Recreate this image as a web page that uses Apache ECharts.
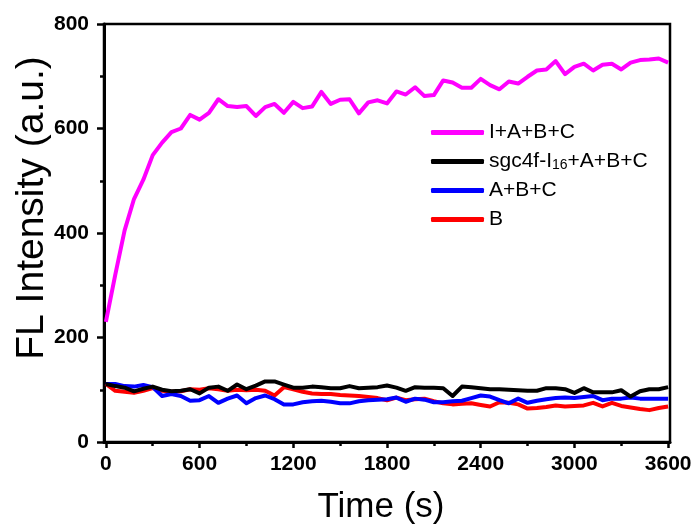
<!DOCTYPE html>
<html>
<head>
<meta charset="utf-8">
<script src="https://cdn.jsdelivr.net/npm/echarts@6/dist/echarts.min.js"></script>
<style>html,body{margin:0;padding:0;background:#fff;}#c{width:698px;height:531px;}</style>
</head>
<body>
<div id="c"></div>
<script>
const times = [0,60,120,180,240,300,360,420,480,540,600,660,720,780,840,900,960,1020,1080,1140,1200,1260,1320,1380,1440,1500,1560,1620,1680,1740,1800,1860,1920,1980,2040,2100,2160,2220,2280,2340,2400,2460,2520,2580,2640,2700,2760,2820,2880,2940,3000,3060,3120,3180,3240,3300,3360,3420,3480,3540,3600];
const seriesNames = ["I+A+B+C", "sgc4f-I16+A+B+C", "A+B+C", "B"];
const magenta = [230,320,405,465,502,549,573,593,600,626,617,630,656,643,641,643,624,641,647,630,651,639,642,670,647,655,656,629,650,654,648,671,665,679,662,664,692,688,678,678,695,683,675,690,686,699,711,713,729,704,718,724,711,722,724,713,726,731,732,734,726];
const black = [111,107,104,97,102,106,100,97,98,101,93,104,106,98,110,101,108,116,116,110,104,104,106,105,103,103,107,103,104,105,108,104,98,105,104,104,103,88,106,105,103,101,101,100,99,98,98,103,103,101,94,103,95,95,95,99,87,97,101,101,105];
const blue = [111,111,107,106,109,105,88,92,88,79,80,88,75,83,89,74,84,89,82,72,72,76,78,79,77,74,74,78,80,81,82,85,77,83,81,76,76,78,79,84,89,87,80,74,83,75,79,82,84,85,84,86,88,80,83,83,85,83,83,83,83];
const red = [111,98,96,94,98,103,98,96,97,101,100,103,101,98,100,99,100,98,89,105,101,96,93,92,92,90,89,88,86,84,80,85,80,82,83,78,74,72,73,74,71,68,76,75,72,64,65,67,70,68,69,70,75,68,75,69,66,63,61,65,68];
const xMajorTicks = [0,600,1200,1800,2400,3000,3600];
const xMinorTicks = [300,900,1500,2100,2700,3300];
const colors = {"I+A+B+C":"#FF00FF","sgc4f-I16+A+B+C":"#000000","A+B+C":"#0000FF","B":"#FF0000"};

function pts(v){ return times.map((t,i)=>[t, v[i]]); }
function mk(name, vals, z){
  return {name:name, type:'line', data:pts(vals), symbol:'none', z:z, xAxisIndex:0,
    color:colors[name], lineStyle:{width:4, color:colors[name], join:'round'}};
}
const chart = echarts.init(document.getElementById('c'), null, {renderer:'canvas'});
const axisFont = 'Liberation Sans, Arial, sans-serif';
chart.setOption({
  animation:false,
  backgroundColor:'#fff',
  grid:{left:104, right:28, top:24, bottom:89, show:true, borderColor:'#000', borderWidth:2.5, backgroundColor:'transparent'},
  legend:{
    orient:'vertical', left:431, top:122, itemWidth:53, itemHeight:5, itemGap:8, padding:0,
    icon:'roundRect',
    data:seriesNames,
    formatter:function(n){ return n === 'sgc4f-I16+A+B+C' ? '{m|sgc4f-I}{s|16}{m|+A+B+C}' : '{m|'+n+'}'; },
    textStyle:{color:'#000', fontFamily:axisFont, fontSize:21, lineHeight:21,
      rich:{m:{fontSize:21, lineHeight:21, fontFamily:axisFont, color:'#000'},
            s:{fontSize:14, lineHeight:10, verticalAlign:'bottom', fontFamily:axisFont, color:'#000'}}}
  },
  xAxis:[{
    type:'value', min:-12, max:3612,
    axisLine:{show:true, onZero:false, lineStyle:{color:'#000', width:3}},
    axisTick:{show:true, inside:false, length:6, lineStyle:{color:'#000', width:2.5}, customValues:xMajorTicks},
    axisLabel:{show:true, customValues:xMajorTicks, margin:12, color:'#000', fontSize:21, fontWeight:'bold', fontFamily:axisFont,
      formatter:function(v){ return String(v); }},
    splitLine:{show:false}
  },{
    type:'value', min:-12, max:3612, position:'bottom', offset:0,
    axisLine:{show:false, onZero:false},
    axisTick:{show:true, inside:false, length:4, lineStyle:{color:'#000', width:2.5}, customValues:xMinorTicks},
    axisLabel:{show:true, customValues:xMinorTicks, color:'rgba(0,0,0,0)', formatter:function(){ return ''; }},
    splitLine:{show:false}
  }],
  yAxis:{
    type:'value', min:0, max:800, interval:200,
    axisLine:{show:true, onZero:false, lineStyle:{color:'#000', width:3}},
    axisTick:{show:true, inside:false, length:7, lineStyle:{color:'#000', width:2.5}},
    minorTick:{show:true, splitNumber:2, length:4, lineStyle:{color:'#000', width:2.5}},
    axisLabel:{margin:15, color:'#000', fontSize:21, fontWeight:'bold', fontFamily:axisFont},
    splitLine:{show:false}
  },
  series:[
    mk('B', red, 2),
    mk('A+B+C', blue, 3),
    mk('sgc4f-I16+A+B+C', black, 4),
    mk('I+A+B+C', magenta, 5)
  ],
  graphic:[
    {type:'text', x:32, y:208, rotation:Math.PI/2,
      style:{text:'FL Intensity (a.u.)', fill:'#000', font:'39px Liberation Sans, Arial, sans-serif', align:'center', verticalAlign:'middle'}},
    {type:'text', x:381, y:507,
      style:{text:'Time (s)', fill:'#000', font:'35px Liberation Sans, Arial, sans-serif', align:'center', verticalAlign:'middle'}}
  ]
});
</script>
</body>
</html>
